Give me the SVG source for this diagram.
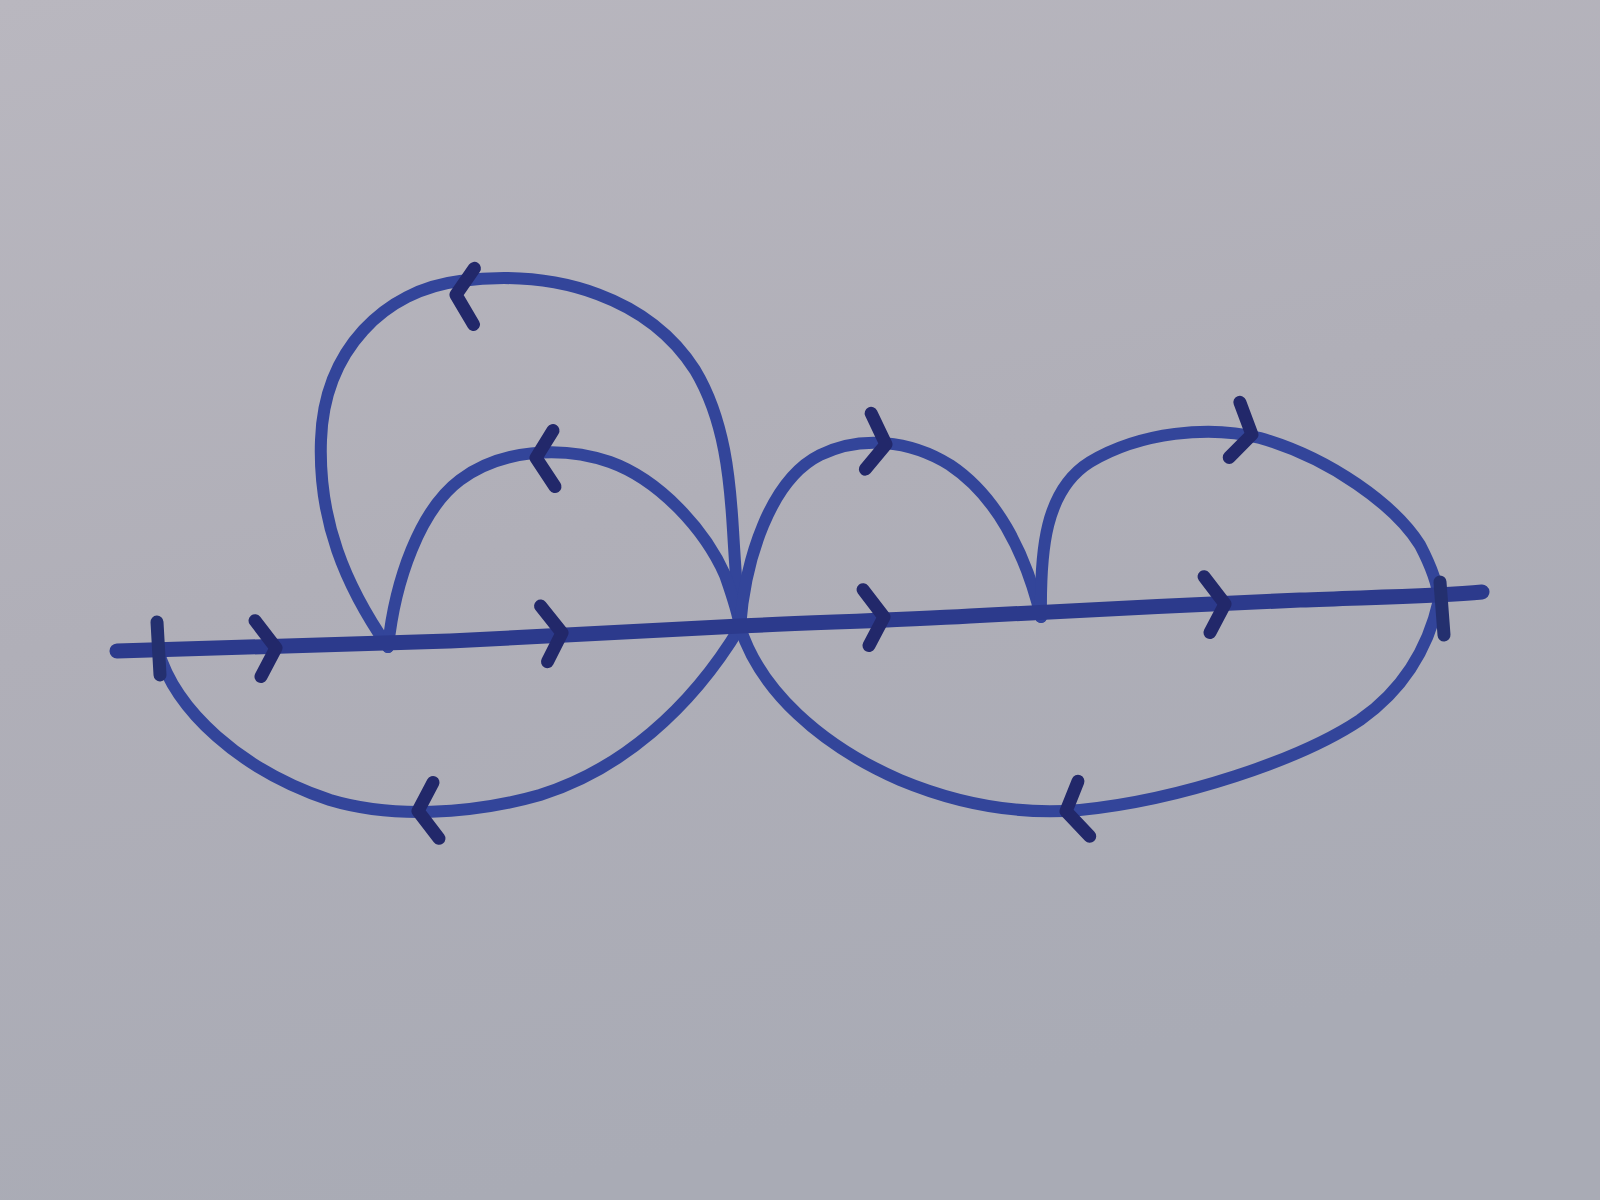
<svg xmlns="http://www.w3.org/2000/svg" width="1600" height="1200" viewBox="0 0 1600 1200">
<defs>
<linearGradient id="bg" x1="0" y1="0" x2="0.3" y2="1">
<stop offset="0" stop-color="#b9b7bf"/>
<stop offset="0.5" stop-color="#b0afb8"/>
<stop offset="1" stop-color="#a9abb5"/>
</linearGradient>
<path id="chev" d="M-18,-28 L2,0 L-14,28"/>
<style>
.curve{fill:none;stroke:#33459a;stroke-width:12;stroke-linecap:round;stroke-linejoin:round}
.main{fill:none;stroke:#2c3a8c;stroke-width:15;stroke-linecap:round}
.arr{fill:none;stroke:#22286a;stroke-width:13;stroke-linecap:round;stroke-linejoin:round}
.tick{stroke:#24306f;stroke-width:13;stroke-linecap:round}
</style>
</defs>
<rect width="1600" height="1200" fill="url(#bg)"/>
<g id="connectors">
<path id="big-loop" class="curve" d="M388,647 C345,585 318,520 321,440 C324,350 385,290 460,281 C560,268 650,300 695,370 C725,420 730,480 733,530 C736,580 738,605 740,627"/>
<path id="inner-loop" class="curve" d="M388,647 C395,580 420,510 460,480 C500,450 560,445 610,462 C660,480 705,530 725,575 C733,598 738,612 740,627"/>
<path id="bottom-left" class="curve" d="M158,650 C175,710 240,770 330,800 C390,818 470,815 540,795 C620,770 690,710 740,627"/>
<path id="right-loop-1" class="curve" d="M740,627 C745,560 770,480 820,455 C860,435 910,440 950,465 C995,495 1025,550 1041,617"/>
<path id="right-loop-2" class="curve" d="M1041,617 C1040,550 1045,490 1090,462 C1140,432 1210,425 1260,438 C1330,458 1395,505 1420,545 C1432,568 1438,585 1439,600"/>
<path id="bottom-right" class="curve" d="M740,627 C760,690 820,745 900,780 C960,805 1020,815 1080,810 C1180,800 1300,760 1360,720 C1410,685 1430,640 1439,600"/>
<path id="main-line" class="main" d="M117,651 C250,647 350,645 450,641 C560,636 650,630 740,626 C830,622 900,620 970,616 C1050,612 1200,604 1300,600 C1380,597 1440,596 1482,592"/>
</g>
<g id="ticks">
<line class="tick" x1="157" y1="622" x2="160" y2="675"/>
<line class="tick" x1="1440" y1="582" x2="1444" y2="635"/>
</g>
<g id="arrows">
<use href="#chev" class="arr" transform="translate(274,648) rotate(-2)"/>
<use href="#chev" class="arr" transform="translate(560,633) rotate(-3)"/>
<use href="#chev" class="arr" transform="translate(882,617) rotate(-2)"/>
<use href="#chev" class="arr" transform="translate(1223,604) rotate(-2)"/>
<use href="#chev" class="arr" transform="translate(458,295) rotate(185)"/>
<use href="#chev" class="arr" transform="translate(538,458) rotate(182)"/>
<use href="#chev" class="arr" transform="translate(420,811) rotate(178)"/>
<use href="#chev" class="arr" transform="translate(884,444) rotate(10)"/>
<use href="#chev" class="arr" transform="translate(1250,434) rotate(15)"/>
<use href="#chev" class="arr" transform="translate(1068,811) rotate(172)"/>
</g>
</svg>
